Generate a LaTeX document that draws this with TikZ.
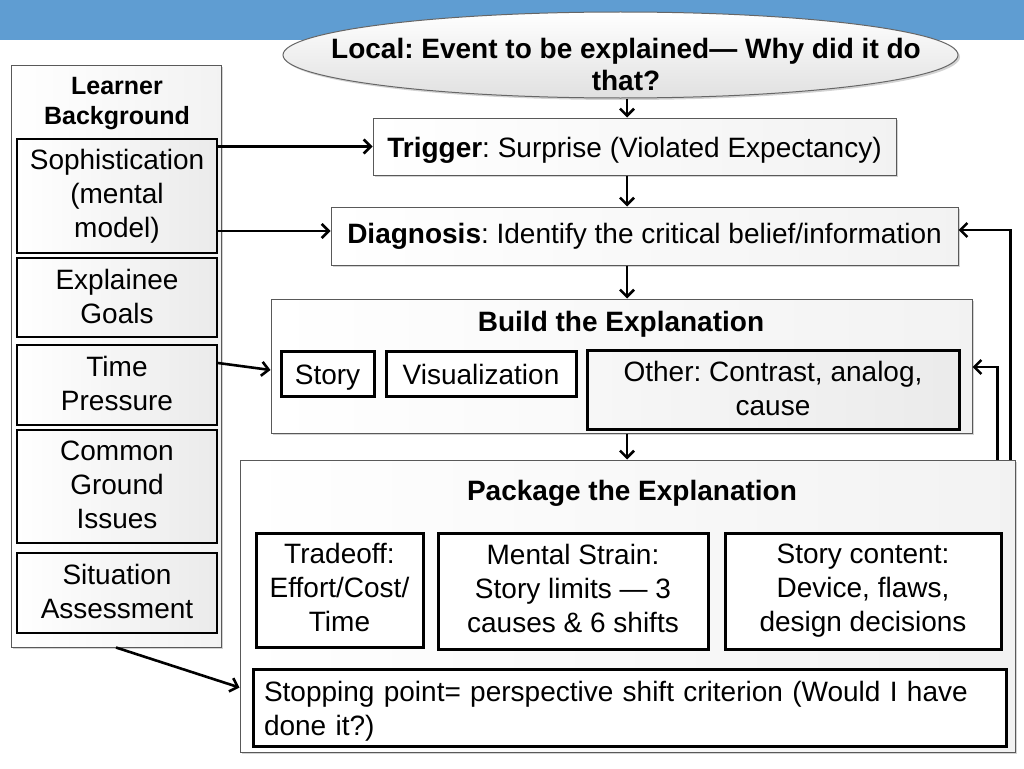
\documentclass[tikz,border=0pt]{standalone}
\usepackage{fontspec}
\setmainfont{Liberation Sans}
\usetikzlibrary{shadows,arrows.meta,calc,shapes.geometric}
\definecolor{banner}{RGB}{95,157,210}
\frenchspacing
\newcommand\fsbody{\fontsize{28}{34}\selectfont}
\newcommand\fslb{\fontsize{25}{30}\selectfont\bfseries}
\newcommand\fsell{\fontsize{28}{32}\selectfont\bfseries}
\newcommand\mystrut{\rule[-6pt]{0pt}{34pt}}
\newcommand\mlstrut{\rule[-3pt]{0pt}{34pt}}
\tikzset{
  shad/.style={drop shadow={opacity=0.35,shadow xshift=2pt,shadow yshift=-2pt}},
  st/.style={execute at begin node=\mystrut, execute at end node=\mystrut},
  ml/.style={execute at begin node=\mlstrut, execute at end node=\mlstrut},
  thinbox/.style={draw=black!65, line width=1pt, left color=white, right color=black!5, shad,
    inner sep=0pt, align=center, font=\fsbody, st},
  midbox/.style={draw=black, line width=2pt, left color=white, right color=black!8,
    inner sep=0pt, align=center, font=\fsbody, ml},
  thickbox/.style={draw=black, line width=3pt, fill=white,
    inner sep=0pt, align=center, font=\fsbody, st},
  thickgray/.style={draw=black, line width=3pt, left color=black!3, right color=black!8, shad,
    inner sep=0pt, align=center, font=\fsbody, ml},
  title/.style={inner sep=0pt, font=\fsbody\bfseries, st},
  arr/.style={line width=2.6pt, -{Straight Barb[length=7pt,width=14pt]}},
}
\begin{document}
\begin{tikzpicture}[x=1pt,y=-1pt]
\useasboundingbox (0,0) rectangle (1024,768);
\fill[banner] (0,0) rectangle (1024,40);

% top ellipse
\node[ellipse, draw=black!60, line width=1pt, top color=white, bottom color=black!12, shad,
  minimum width=675pt, minimum height=86pt, inner sep=0pt] (ell) at (620.5,55) {};
\node[inner sep=0pt, align=center, font=\fsell] (ellt) at (626,64)
  {Local: Event to be explained--- Why did it do\\that?};

% learner background column
\node[thinbox, minimum width=210pt, minimum height=582pt] (lb) at (116,356) {};
\node[inner sep=0pt, align=center, font=\fslb] (lbt) at (117,104) {Learner\\Background};
\node[midbox, minimum width=200pt, minimum height=114pt] (soph) at (117,196) {Sophistication\\(mental\\model)};
\node[midbox, minimum width=200pt, minimum height=79pt] (goals) at (117,297.5) {Explainee\\Goals};
\node[midbox, minimum width=200pt, minimum height=80pt] (time) at (117,385) {Time\\Pressure};
\node[midbox, minimum width=200pt, minimum height=113pt] (cg) at (117,486.5) {Common\\Ground\\Issues};
\node[midbox, minimum width=200pt, minimum height=80pt] (sit) at (117,593) {Situation\\Assessment};

% trigger, diagnosis
\node[thinbox, minimum width=523pt, minimum height=57pt] (trig) at (634.5,146.5)
  {\textbf{Trigger}: Surprise (Violated Expectancy)};
\node[thinbox, minimum width=627pt, minimum height=58pt] (diag) at (644.5,236)
  {\raisebox{4pt}{\textbf{Diagnosis}: Identify the critical belief/information}};

% build
\node[thinbox, minimum width=701pt, minimum height=134pt] (build) at (621.5,366) {};
\node[title] (btitle) at (621,320) {Build the Explanation};
\node[thickbox, minimum width=93pt, minimum height=45pt] (story) at (327.5,373.5) {Story};
\node[thickbox, minimum width=190pt, minimum height=45pt] (vis) at (481,373.5) {Visualization};
\node[thickgray, minimum width=372pt, minimum height=79pt] (other) at (773,389.5) {Other: Contrast, analog,\\cause};

% package
\node[thinbox, minimum width=775pt, minimum height=292pt] (pkg) at (627.5,606) {};
\node[title] (ptitle) at (632,489) {Package the Explanation};
\node[thickbox, ml, minimum width=167pt, minimum height=114pt] (trade) at (339.5,590) {Tradeoff:\\Effort/Cost/\\Time};
\node[thickbox, ml, minimum width=270pt, minimum height=116pt] (ment) at (573,591) {Mental Strain:\\Story limits --- 3\\causes \& 6 shifts};
\node[thickbox, ml, minimum width=276pt, minimum height=116pt] (scont) at (863,591) {Story content:\\Device, flaws,\\design decisions};
\node[thickbox, minimum width=753pt, minimum height=77pt, text width=731pt, align=left] (stop) at (629.5,707.5)
  {Stopping point= perspective shift criterion (Would I have done it?)};

% connectors
\coordinate (col) at (627,0);
\draw[arr] (ell.south -| col) -- (trig.north -| col);
\draw[arr] (trig.south -| col) -- (diag.north -| col);
\draw[arr] (diag.south -| col) -- (build.north -| col);
\draw[arr] (build.south -| col) -- (pkg.north -| col);
\draw[arr] (soph.east |- trig.west) -- (trig.west);
\draw[arr] ($(soph.east |- diag.west)+(0,-5)$) -- ($(diag.west)+(0,-5)$);
\draw[arr] ($(time.east)+(0,-22)$) -- ($(build.west)+(0,4)$);
\draw[arr] (lb.south) -- ($(pkg.west |- stop.west)+(0,-20)$);
\draw[arr] ($(pkg.north east)+(-5,0)$) |- ($(diag.east)+(0,-6)$);
\draw[arr] ($(pkg.north east)+(-18,0)$) |- ($(build.east)+(0,1)$);
\end{tikzpicture}
\end{document}
